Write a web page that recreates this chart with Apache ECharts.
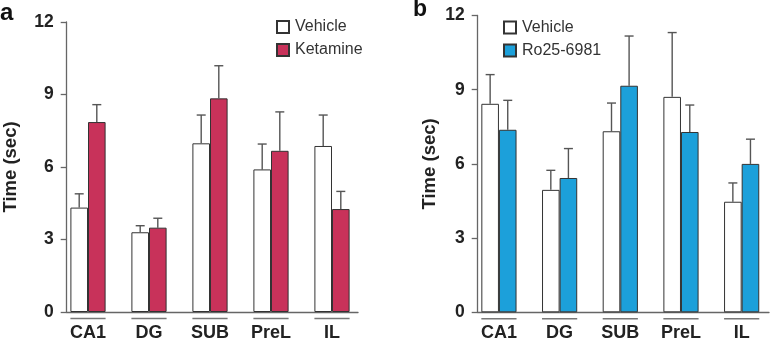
<!DOCTYPE html>
<html>
<head>
<meta charset="utf-8">
<script src="https://cdn.jsdelivr.net/npm/echarts@6/dist/echarts.min.js"></script>
<style>
html,body{margin:0;padding:0;background:#fff;}
#chart{width:772px;height:343px;}
</style>
</head>
<body>
<div id="chart"></div>
<script>
// ---- data ----
const categories = ['CA1', 'DG', 'SUB', 'PreL', 'IL'];
const yTicks = [0, 3, 6, 9, 12];

// panel a
const vehicleA = [4.32, 3.30, 6.98, 5.90, 6.87];
const vehicleAUpper = [4.89, 3.57, 8.15, 6.95, 8.15];
const ketamine = [7.86, 3.49, 8.84, 6.67, 4.26];
const ketamineUpper = [8.58, 3.88, 10.19, 8.28, 4.99];

// panel b
const vehicleB = [8.43, 4.95, 7.32, 8.71, 4.47];
const vehicleBUpper = [9.61, 5.74, 8.46, 11.31, 5.23];
const ro256981 = [7.38, 5.43, 9.16, 7.29, 6.00];
const ro256981Upper = [8.57, 6.62, 11.17, 8.38, 7.00];

// ---- style ----
const FONT = 'Liberation Sans, Arial, sans-serif';
const AXIS_COLOR = '#666';
const TEXT_COLOR = '#222';
const RED = '#C8325A';
const BLUE = '#1CA0DA';
const BAR_W = 17.6;

const chart = echarts.init(document.getElementById('chart'));

function errSeries(name, vals, uppers, side, axisIdx) {
  return {
    type: 'custom',
    name: name + ' err',
    xAxisIndex: axisIdx, yAxisIndex: axisIdx,
    clip: false,
    silent: true,
    z: 1,
    encode: { x: 0, y: [1, 2] },
    data: vals.map((v, i) => [i, v, uppers[i]]),
    renderItem: function (params, api) {
      const base = api.coord([api.value(0), api.value(1)]);
      const top = api.coord([api.value(0), api.value(2)]);
      const x = base[0] + side * BAR_W / 2;
      const st = { stroke: '#555', lineWidth: 1.4 };
      return {
        type: 'group',
        children: [
          { type: 'line', shape: { x1: x, y1: base[1], x2: x, y2: top[1] }, style: st },
          { type: 'line', shape: { x1: x - 4.5, y1: top[1], x2: x + 4.5, y2: top[1] }, style: st }
        ]
      };
    }
  };
}

function underlineSeries(axisIdx) {
  return {
    type: 'custom',
    xAxisIndex: axisIdx, yAxisIndex: axisIdx,
    clip: false,
    silent: true,
    encode: { x: 0, y: 1 },
    data: categories.map((c, i) => [i, 0]),
    renderItem: function (params, api) {
      const p = api.coord([api.value(0), api.value(1)]);
      return {
        type: 'line',
        shape: { x1: p[0] - BAR_W, y1: p[1] + 6.5, x2: p[0] + BAR_W, y2: p[1] + 6.5 },
        style: { stroke: '#777', lineWidth: 1.4 }
      };
    }
  };
}

function barSeries(name, vals, color, axisIdx) {
  return {
    type: 'bar',
    name: name,
    xAxisIndex: axisIdx, yAxisIndex: axisIdx,
    data: vals,
    barWidth: BAR_W,
    barGap: '0%',
    z: 2,
    itemStyle: { color: color, borderColor: '#333', borderWidth: 1 }
  };
}

const frameY = (name, gap) => ({
  type: 'value', min: 0, max: 12, interval: 3,
  name: name, nameLocation: 'middle', nameGap: gap, nameRotate: 90,
  nameTextStyle: { fontFamily: FONT, fontWeight: 'bold', fontSize: 18.5, color: TEXT_COLOR },
  axisLine: { show: true, lineStyle: { color: AXIS_COLOR, width: 1.3 } },
  axisTick: { show: true, length: 6, lineStyle: { color: AXIS_COLOR, width: 1.3 } },
  axisLabel: { fontFamily: FONT, fontWeight: 'bold', fontSize: 17.5, color: TEXT_COLOR, margin: 13,
    customValues: yTicks },
  splitLine: { show: false }
});

const frameX = {
  type: 'value', min: 0, max: 1,
  axisLine: { show: true, onZero: false, lineStyle: { color: AXIS_COLOR, width: 1.3 } },
  axisTick: { show: false }, axisLabel: { show: false }, splitLine: { show: false }
};

const barX = {
  type: 'category', data: categories,
  axisLine: { show: false }, axisTick: { show: false },
  axisLabel: { fontFamily: FONT, fontWeight: 'bold', fontSize: 18, color: TEXT_COLOR, margin: 12, interval: 0 }
};
const barY = { type: 'value', min: 0, max: 12, interval: 3, show: false, splitLine: { show: false } };

const legendBase = {
  orient: 'vertical', itemWidth: 12, itemHeight: 12, itemGap: 7, icon: 'rect',
  textStyle: { fontFamily: FONT, fontSize: 16, color: '#333', padding: [0, 0, 0, 1] },
  selectedMode: false
};

const option = {
  animation: false,
  backgroundColor: '#fff',
  grid: [
    { left: 66.7, right: 414, top: 22, bottom: 31 },      // a frame
    { left: 57.5, right: 409.5, top: 22, bottom: 31 },    // a bars
    { left: 477.7, right: 3, top: 15.5, bottom: 30.7 },   // b frame
    { left: 468.6, right: -5.7, top: 15.5, bottom: 30.7 } // b bars
  ],
  xAxis: [
    Object.assign({ gridIndex: 0 }, frameX),
    Object.assign({ gridIndex: 1 }, barX),
    Object.assign({ gridIndex: 2 }, frameX),
    Object.assign({ gridIndex: 3 }, barX)
  ],
  yAxis: [
    Object.assign({ gridIndex: 0 }, frameY('Time (sec)', 46)),
    Object.assign({ gridIndex: 1 }, barY),
    Object.assign({ gridIndex: 2 }, frameY('Time (sec)', 38)),
    Object.assign({ gridIndex: 3 }, barY)
  ],
  legend: [
    Object.assign({ data: ['Vehicle', 'Ketamine'], left: 271, top: 14 }, legendBase),
    Object.assign({ data: ['Vehicle', 'Ro25-6981'], left: 498, top: 14.5 }, legendBase)
  ],
  graphic: [
    { type: 'text', left: 0, top: 1, style: { text: 'a', font: 'bold 24px ' + FONT, fill: '#111' } },
    { type: 'text', left: 413, top: -2, style: { text: 'b', font: 'bold 23px ' + FONT, fill: '#111' } }
  ],
  series: [
    underlineSeries(1),
    barSeries('Vehicle', vehicleA, '#fff', 1),
    barSeries('Ketamine', ketamine, RED, 1),
    errSeries('Vehicle', vehicleA, vehicleAUpper, -1, 1),
    errSeries('Ketamine', ketamine, ketamineUpper, 1, 1),
    underlineSeries(3),
    barSeries('Vehicle', vehicleB, '#fff', 3),
    barSeries('Ro25-6981', ro256981, BLUE, 3),
    errSeries('Vehicle', vehicleB, vehicleBUpper, -1, 3),
    errSeries('Ro25-6981', ro256981, ro256981Upper, 1, 3)
  ]
};
chart.setOption(option);
</script>
</body>
</html>
